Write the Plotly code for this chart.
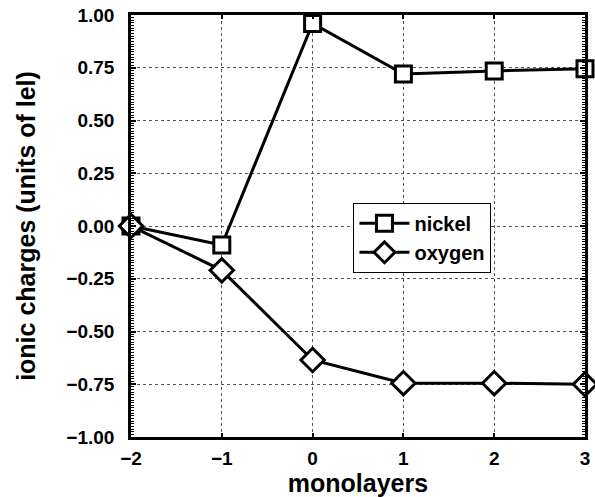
import plotly.graph_objects as go

monolayers = [-2, -1, 0, 1, 2, 3]
nickel = [0.0, -0.09, 0.96, 0.72, 0.735, 0.745]
oxygen = [0.0, -0.21, -0.635, -0.745, -0.745, -0.75]

font_fam = "Liberation Sans, Arial, sans-serif"

fig = go.Figure()
fig.add_trace(go.Scatter(
    x=monolayers, y=nickel, name="<b>nickel</b>", mode="lines+markers",
    line=dict(color="black", width=3),
    marker=dict(symbol="square", size=16, color="white", line=dict(color="black", width=3)),
    cliponaxis=False,
))
fig.add_trace(go.Scatter(
    x=monolayers, y=oxygen, name="<b>oxygen</b>", mode="lines+markers",
    line=dict(color="black", width=3),
    marker=dict(symbol="diamond", size=18, color="white", line=dict(color="black", width=3)),
    cliponaxis=False,
))

fig.update_layout(
    width=595, height=497,
    margin=dict(l=131, r=10, t=15, b=60),
    paper_bgcolor="white", plot_bgcolor="white",
    font=dict(family=font_fam, color="black", size=19),
    showlegend=True,
    legend=dict(
        x=0.49, y=0.555, xanchor="left", yanchor="top",
        bgcolor="white", bordercolor="black", borderwidth=1,
        font=dict(size=20, family=font_fam),
        itemwidth=50, tracegroupgap=0,
    ),
)
fig.update_xaxes(
    range=[-2, 3], dtick=1, tick0=-2,
    tickvals=monolayers,
    ticktext=["<b>\u22122</b>", "<b>\u22121</b>", "<b>0</b>", "<b>1</b>", "<b>2</b>", "<b>3</b>"],
    showline=True, linecolor="black", linewidth=2.5, mirror="allticks",
    ticks="inside", ticklen=4, tickcolor="black", tickwidth=1.5,
    showgrid=True, gridcolor="#555", griddash="dot", gridwidth=1,
    zeroline=False, automargin=False,
    tickfont=dict(size=19, family=font_fam),
    ticklabelstandoff=2,
    title=dict(text="<b>monolayers</b>", font=dict(size=25, family=font_fam), standoff=2),
)
fig.update_yaxes(
    range=[-1, 1], dtick=0.25,
    tickvals=[-1, -0.75, -0.5, -0.25, 0, 0.25, 0.5, 0.75, 1],
    ticktext=["<b>\u22121.00</b>", "<b>\u22120.75</b>", "<b>\u22120.50</b>", "<b>\u22120.25</b>",
              "<b>0.00</b>", "<b>0.25</b>", "<b>0.50</b>", "<b>0.75</b>", "<b>1.00</b>"],
    showline=True, linecolor="black", linewidth=2.5, mirror="allticks",
    ticks="inside", ticklen=5, tickcolor="black", tickwidth=1.5,
    minor=dict(dtick=0.0125, ticks="inside", ticklen=3, tickcolor="black", tickwidth=1, showgrid=False),
    showgrid=True, gridcolor="#555", griddash="dot", gridwidth=1,
    zeroline=False, automargin=False,
    tickfont=dict(size=19, family=font_fam),
    ticklabelstandoff=10,
    title=dict(text="<b>ionic charges (units of lel)</b>", font=dict(size=25, family=font_fam), standoff=24),
)

fig.write_html("out.html")
